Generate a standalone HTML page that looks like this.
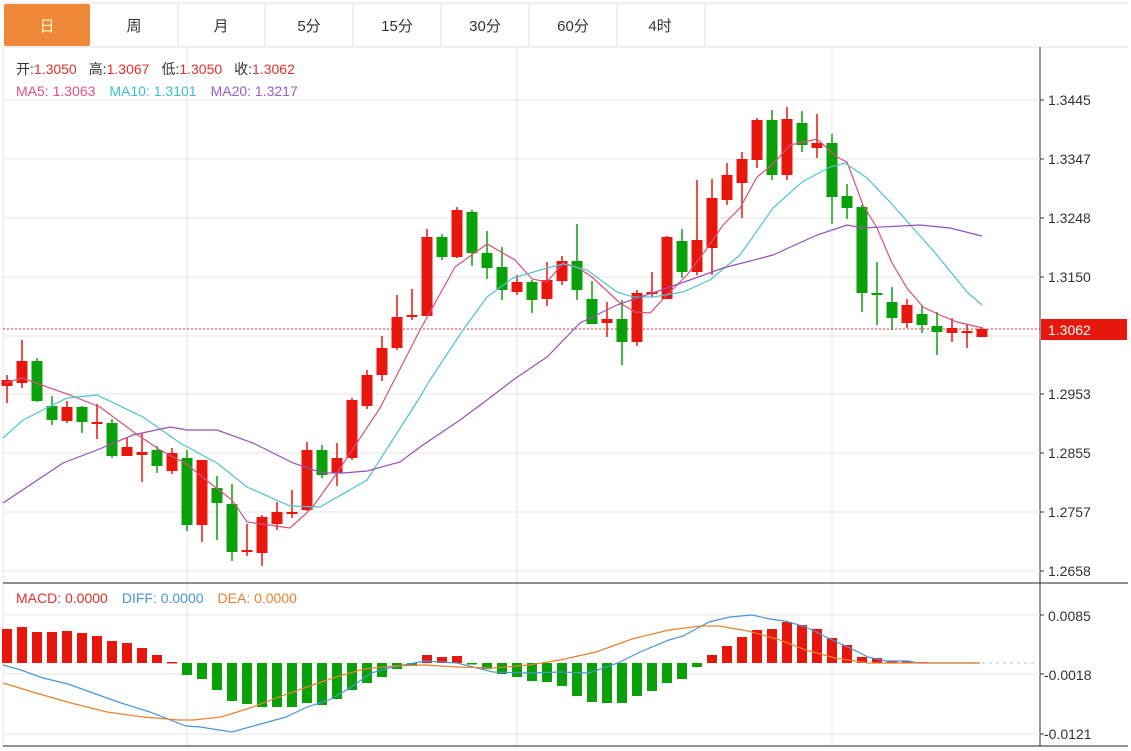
<!DOCTYPE html>
<html><head><meta charset="utf-8"><style>
body{margin:0;background:#fff;width:1131px;height:751px;overflow:hidden;font-family:"Liberation Sans","Noto Sans CJK SC",sans-serif}
svg{display:block}
</style></head><body>
<svg width="1131" height="751" xmlns="http://www.w3.org/2000/svg" font-family="Liberation Sans, Noto Sans CJK SC, sans-serif">
<rect width="1131" height="751" fill="#fff"/>
<!-- tabs -->
<g stroke="#e2e2e2" fill="none">
<line x1="3" y1="3" x2="1128" y2="3"/><line x1="3" y1="47" x2="1128" y2="47"/>
<line x1="178" y1="3" x2="178" y2="47"/><line x1="265" y1="3" x2="265" y2="47"/><line x1="353" y1="3" x2="353" y2="47"/><line x1="441" y1="3" x2="441" y2="47"/><line x1="529" y1="3" x2="529" y2="47"/><line x1="617" y1="3" x2="617" y2="47"/><line x1="705" y1="3" x2="705" y2="47"/>
</g>
<rect x="4" y="4" width="86" height="42" rx="2" fill="#f0883a"/>
<g font-size="15" fill="#333" text-anchor="middle">
<text x="47" y="31" fill="#fff6c8">日</text><text x="134" y="31">周</text><text x="221" y="31">月</text><text x="309" y="31">5分</text><text x="397" y="31">15分</text><text x="485" y="31">30分</text><text x="573" y="31">60分</text><text x="660" y="31">4时</text>
</g>
<!-- frames -->
<g stroke="#e6e6e6">
<line x1="3" y1="47" x2="3" y2="746"/>
<line x1="1040" y1="47" x2="1040" y2="746" stroke="#333"/>
<line x1="187" y1="47" x2="187" y2="746"/><line x1="517" y1="47" x2="517" y2="746"/><line x1="832" y1="47" x2="832" y2="746"/>
<line x1="3" y1="100" x2="1040" y2="100"/><line x1="3" y1="159" x2="1040" y2="159"/><line x1="3" y1="218" x2="1040" y2="218"/><line x1="3" y1="277" x2="1040" y2="277"/><line x1="3" y1="336" x2="1040" y2="336"/><line x1="3" y1="394" x2="1040" y2="394"/><line x1="3" y1="453" x2="1040" y2="453"/><line x1="3" y1="512" x2="1040" y2="512"/><line x1="3" y1="571" x2="1040" y2="571"/>
<line x1="3" y1="615" x2="1040" y2="615"/><line x1="3" y1="674" x2="1040" y2="674"/><line x1="3" y1="734" x2="1040" y2="734"/>
</g>
<line x1="3" y1="583" x2="1128" y2="583" stroke="#222"/>
<line x1="3" y1="746" x2="1128" y2="746" stroke="#222"/>
<!-- axis labels -->
<g font-size="14" fill="#333">
<text x="1048" y="105">1.3445</text><text x="1048" y="164">1.3347</text><text x="1048" y="223">1.3248</text><text x="1048" y="282">1.3150</text><text x="1048" y="399">1.2953</text><text x="1048" y="458">1.2855</text><text x="1048" y="517">1.2757</text><text x="1048" y="576">1.2658</text>
<text x="1048" y="621">0.0085</text><text x="1044" y="680">-0.0018</text><text x="1044" y="739">-0.0121</text>
</g>
<g stroke="#333"><line x1="1040" y1="100" x2="1044" y2="100"/><line x1="1040" y1="159" x2="1044" y2="159"/><line x1="1040" y1="218" x2="1044" y2="218"/><line x1="1040" y1="277" x2="1044" y2="277"/><line x1="1040" y1="394" x2="1044" y2="394"/><line x1="1040" y1="453" x2="1044" y2="453"/><line x1="1040" y1="512" x2="1044" y2="512"/><line x1="1040" y1="571" x2="1044" y2="571"/><line x1="1040" y1="615" x2="1044" y2="615"/><line x1="1040" y1="674" x2="1044" y2="674"/><line x1="1040" y1="734" x2="1044" y2="734"/></g>
<!-- header info -->
<g font-size="14">
<text x="16" y="74"><tspan fill="#333">开:</tspan><tspan fill="#e0302a">1.3050</tspan><tspan fill="#333" dx="12">高:</tspan><tspan fill="#e0302a">1.3067</tspan><tspan fill="#333" dx="12">低:</tspan><tspan fill="#e0302a">1.3050</tspan><tspan fill="#333" dx="12">收:</tspan><tspan fill="#e0302a">1.3062</tspan></text>
<text x="16" y="96"><tspan fill="#e0528a">MA5: 1.3063</tspan><tspan fill="#3bbfcc" dx="14">MA10: 1.3101</tspan><tspan fill="#a05cc0" dx="14">MA20: 1.3217</tspan></text>
<text x="16" y="603"><tspan fill="#e0302a">MACD: 0.0000</tspan><tspan fill="#4a95d8" dx="14">DIFF: 0.0000</tspan><tspan fill="#e8822e" dx="14">DEA: 0.0000</tspan></text>
</g>
<!-- price line -->
<line x1="3" y1="329" x2="1040" y2="329" stroke="#e0302a" stroke-dasharray="2,2"/>
<rect x="1041" y="319" width="86" height="21" fill="#e8170d"/>
<text x="1048" y="335" font-size="14" fill="#fff">1.3062</text>
<g id="candles"></g>
<g id="macd"></g>
<!-- MA lines -->
<polyline fill="none" stroke="#d94f7e" stroke-width="1.2" points="5,383 22,378 70,395 100,407 135,433 160,450 185,463 215,487 232,500 247,522 290,528 312,508 337,473 380,408 420,330 455,267 487,244 515,260 532,279 547,282 563,263 577,267 592,277 620,303 635,312 650,313 667,295 687,275 708,247 723,225 740,208 757,177 772,165 790,145 817,139 837,157 847,162 863,205 877,228 892,263 907,288 923,307 940,315 957,322 983,328"/>
<polyline fill="none" stroke="#4fc3d0" stroke-width="1.2" points="3,438 23,420 67,398 97,395 143,417 180,443 217,463 247,487 290,506 320,507 367,480 420,397 430,380 463,330 487,297 513,278 547,268 563,264 587,270 617,292 633,297 653,297 683,292 710,280 740,255 773,208 802,182 830,167 845,163 867,178 890,202 913,228 937,255 967,292 982,305"/>
<polyline fill="none" stroke="#9b4fb5" stroke-width="1.2" points="3,503 33,483 63,463 97,450 133,435 170,427 187,430 217,430 253,443 293,463 323,473 343,473 367,471 400,462 420,447 460,420 487,400 513,380 547,357 580,323 617,305 667,288 690,280 723,268 773,255 817,235 847,225 863,228 920,225 950,228 982,236"/>
<polyline fill="none" stroke="#4a95d8" stroke-width="1.2" points="3,665 21,670 43,678 68,684 93,693 121,703 150,712 186,726 200,727 232,732 257,725 286,717 307,707 329,700 350,688 371,673 393,667 425,661 457,663 493,672 529,673 560,672 589,673 618,663 640,652 669,640 683,636 709,622 730,617 752,615 770,619 785,621 806,627 828,638 850,648 868,657 886,661 908,661 919,663 980,663"/>
<polyline fill="none" stroke="#e8822e" stroke-width="1.2" points="3,683 36,693 71,703 107,712 143,717 179,720 193,720 221,717 250,708 279,697 307,687 336,677 364,669 393,666 425,665 457,667 493,668 529,665 560,660 596,652 632,639 669,630 701,626 719,626 748,631 777,639 806,650 835,658 868,663 980,663"/>
<line x1="982" y1="663" x2="1035" y2="663" stroke="#a8c8e8" stroke-dasharray="3,4"/>
</svg>
<script>
var C=[[380,386,375,403,1],[361,383,340,388,1],[361,401,358,402,0],[406,420,396,425,0],[407,421,401,423,1],[407,422,406,433,0],[422,424,404,439,1],[423,456,419,458,0],[447,456,438,456,1],[452,455,433,482,1],[450,466,446,473,0],[453,471,448,474,1],[458,525,450,531,0],[460,525,462,542,1],[488,503,476,540,0],[504,552,484,561,0],[550,552,524,556,1],[517,553,515,566,1],[512,524,502,530,1],[512,514,490,518,1],[450,510,442,511,1],[450,475,445,478,0],[458,473,443,486,1],[400,458,398,460,1],[375,406,370,409,1],[348,375,336,381,1],[317,348,295,350,1],[315,317,289,320,1],[237,316,229,316,1],[237,257,234,260,0],[210,257,207,258,1],[212,253,210,266,0],[253,268,231,279,0],[267,290,247,300,0],[282,292,275,295,1],[282,300,280,313,0],[280,299,262,306,1],[261,281,256,285,1],[261,290,224,300,0],[299,324,281,324,0],[319,323,302,337,1],[319,342,300,365,0],[293,342,290,346,1],[292,294,272,297,1],[237,299,236,299,1],[241,272,229,278,0],[240,272,180,275,1],[198,248,179,275,1],[175,200,163,205,1],[159,183,152,218,1],[120,160,118,168,1],[120,175,110,180,0],[119,175,107,180,1],[123,145,111,152,0],[143,148,114,158,1],[143,197,134,224,0],[196,208,184,219,0],[207,293,205,312,0],[293,295,262,325,0],[302,318,287,330,0],[305,323,299,328,1],[314,325,305,333,0],[326,332,312,355,0],[328,333,318,342,1],[331,333,324,348,1],[329,337,327,337,1]];
var M=[629,627,632,632,631,633,636,641,643,648,655,662,675,679,690,701,704,707,707,707,703,705,699,690,683,677,669,665,655,657,656,664,669,674,677,681,682,686,696,702,703,703,696,691,683,679,667,655,646,637,630,629,622,625,629,638,645,657,658,661,661,662];
var ns="http://www.w3.org/2000/svg",g=document.getElementById("candles"),h="";
C.forEach(function(c,i){var x=7+15*i,col=c[4]?"#e8170d":"#0aa00a";var t=Math.min(c[0],c[1]),b=Math.max(c[0],c[1]);if(b-t<2)b=t+2;
h+='<line x1="'+x+'" y1="'+c[2]+'" x2="'+x+'" y2="'+c[3]+'" stroke="'+col+'" stroke-width="1.5"/><rect x="'+(x-5.5)+'" y="'+t+'" width="11" height="'+(b-t)+'" fill="'+col+'"/>';});
g.innerHTML=h;h="";
M.forEach(function(v,i){var x=7+15*i,z=663;var t=Math.min(v,z),b=Math.max(v,z);if(b-t<1.5)b=t+1.5;h+='<rect x="'+(x-5)+'" y="'+t+'" width="10" height="'+(b-t)+'" fill="'+(v<z?"#e8170d":"#0aa00a")+'"/>';});
document.getElementById("macd").innerHTML=h;
</script>
</body></html>
